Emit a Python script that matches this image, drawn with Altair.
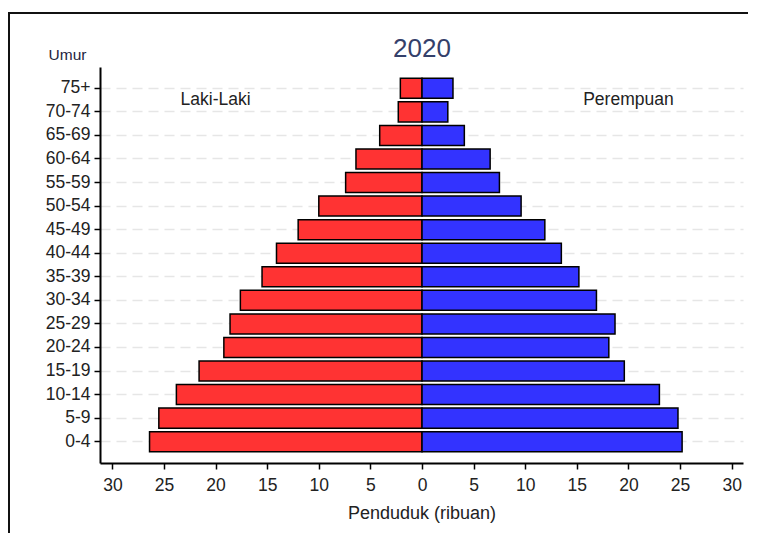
import altair as alt
import pandas as pd

ages = ["0-4", "5-9", "10-14", "15-19", "20-24", "25-29", "30-34", "35-39",
        "40-44", "45-49", "50-54", "55-59", "60-64", "65-69", "70-74", "75+"]
male = [26.4, 25.5, 23.8, 21.6, 19.2, 18.6, 17.6, 15.5,
        14.1, 12.0, 10.0, 7.4, 6.4, 4.1, 2.3, 2.1]
female = [25.2, 24.8, 23.0, 19.6, 18.1, 18.7, 16.9, 15.2,
          13.5, 11.9, 9.6, 7.5, 6.6, 4.1, 2.5, 3.0]
x_ticks = [-30, -25, -20, -15, -10, -5, 0, 5, 10, 15, 20, 25, 30]
chart_title = "2020"
side_labels = ["Laki-Laki", "Perempuan"]
side_pos = [-20, 20]

rows = []
for a, m, f in zip(ages, male, female):
    rows.append({"age": a, "sex": "Laki-Laki", "value": -m})
    rows.append({"age": a, "sex": "Perempuan", "value": f})
df = pd.DataFrame(rows)

order = list(reversed(ages))
FONT = "Liberation Sans"

xscale = alt.Scale(domain=[-31.2, 31.1], nice=False, zero=False)
yscale = alt.Scale(domain=order, paddingInner=0.15, paddingOuter=0.48)

bars = alt.Chart(df).mark_bar(stroke="black", strokeWidth=1.5).encode(
    x=alt.X("value:Q", scale=xscale,
            axis=alt.Axis(values=x_ticks, labelExpr="abs(datum.value)",
                          title="Penduduk (ribuan)", grid=False,
                          domainColor="black", domainWidth=2,
                          tickColor="black", tickWidth=1.5, tickSize=6,
                          labelFont=FONT, labelFontSize=17.5, labelColor="#222",
                          labelPadding=7, titleFont=FONT, titleFontSize=18,
                          titleFontWeight="normal", titleColor="#222",
                          titlePadding=11)),
    x2=alt.datum(0),
    y=alt.Y("age:N", scale=yscale, sort=order,
            axis=alt.Axis(title="Umur", titleAngle=0, titleX=-33, titleY=-8,
                          titleAlign="center", titleBaseline="alphabetic",
                          titleFont=FONT, titleFontSize=15.5, titleFontWeight="normal",
                          titleColor="#1e2540",
                          grid=True, gridDash=[10, 6], gridColor="#e6e6e6",
                          gridWidth=1.5, bandPosition=0.5,
                          domainColor="black", domainWidth=2,
                          tickColor="black", tickWidth=1.5, tickSize=6,
                          labelFont=FONT, labelFontSize=17.5, labelColor="#222",
                          labelPadding=4)),
    color=alt.Color("sex:N", scale=alt.Scale(domain=side_labels,
                                             range=["#FF3333", "#3333FF"]),
                    legend=None),
)

labels = alt.Chart(pd.DataFrame({"label": side_labels, "pos": side_pos})).mark_text(
    font=FONT, fontSize=17.5, color="#222", dy=12, baseline="middle"
).encode(
    x=alt.X("pos:Q", scale=xscale),
    y=alt.datum("75+"),
    text="label:N",
)

title = alt.Chart(pd.DataFrame({"t": [chart_title]})).mark_text(
    font=FONT, fontSize=26, color="#34406a", baseline="alphabetic", align="center"
).encode(
    x=alt.datum(0),
    y=alt.value(-10),
    text="t:N",
)

frame = alt.Chart(alt.Data(values=[{}])).mark_rect(
    fill=None, stroke="#111", strokeWidth=2
).encode(
    x=alt.value(-91), x2=alt.value(800),
    y=alt.value(-54), y2=alt.value(700),
)

chart = alt.layer(frame, bars, labels, title).properties(
    width=643, height=396,
    autosize=alt.AutoSizeParams(type="none"),
    padding={"left": 92, "top": 59, "right": 5, "bottom": 70},
).configure_view(stroke=None)

chart.save("out.html", embed_options={"renderer": "svg", "actions": False})
